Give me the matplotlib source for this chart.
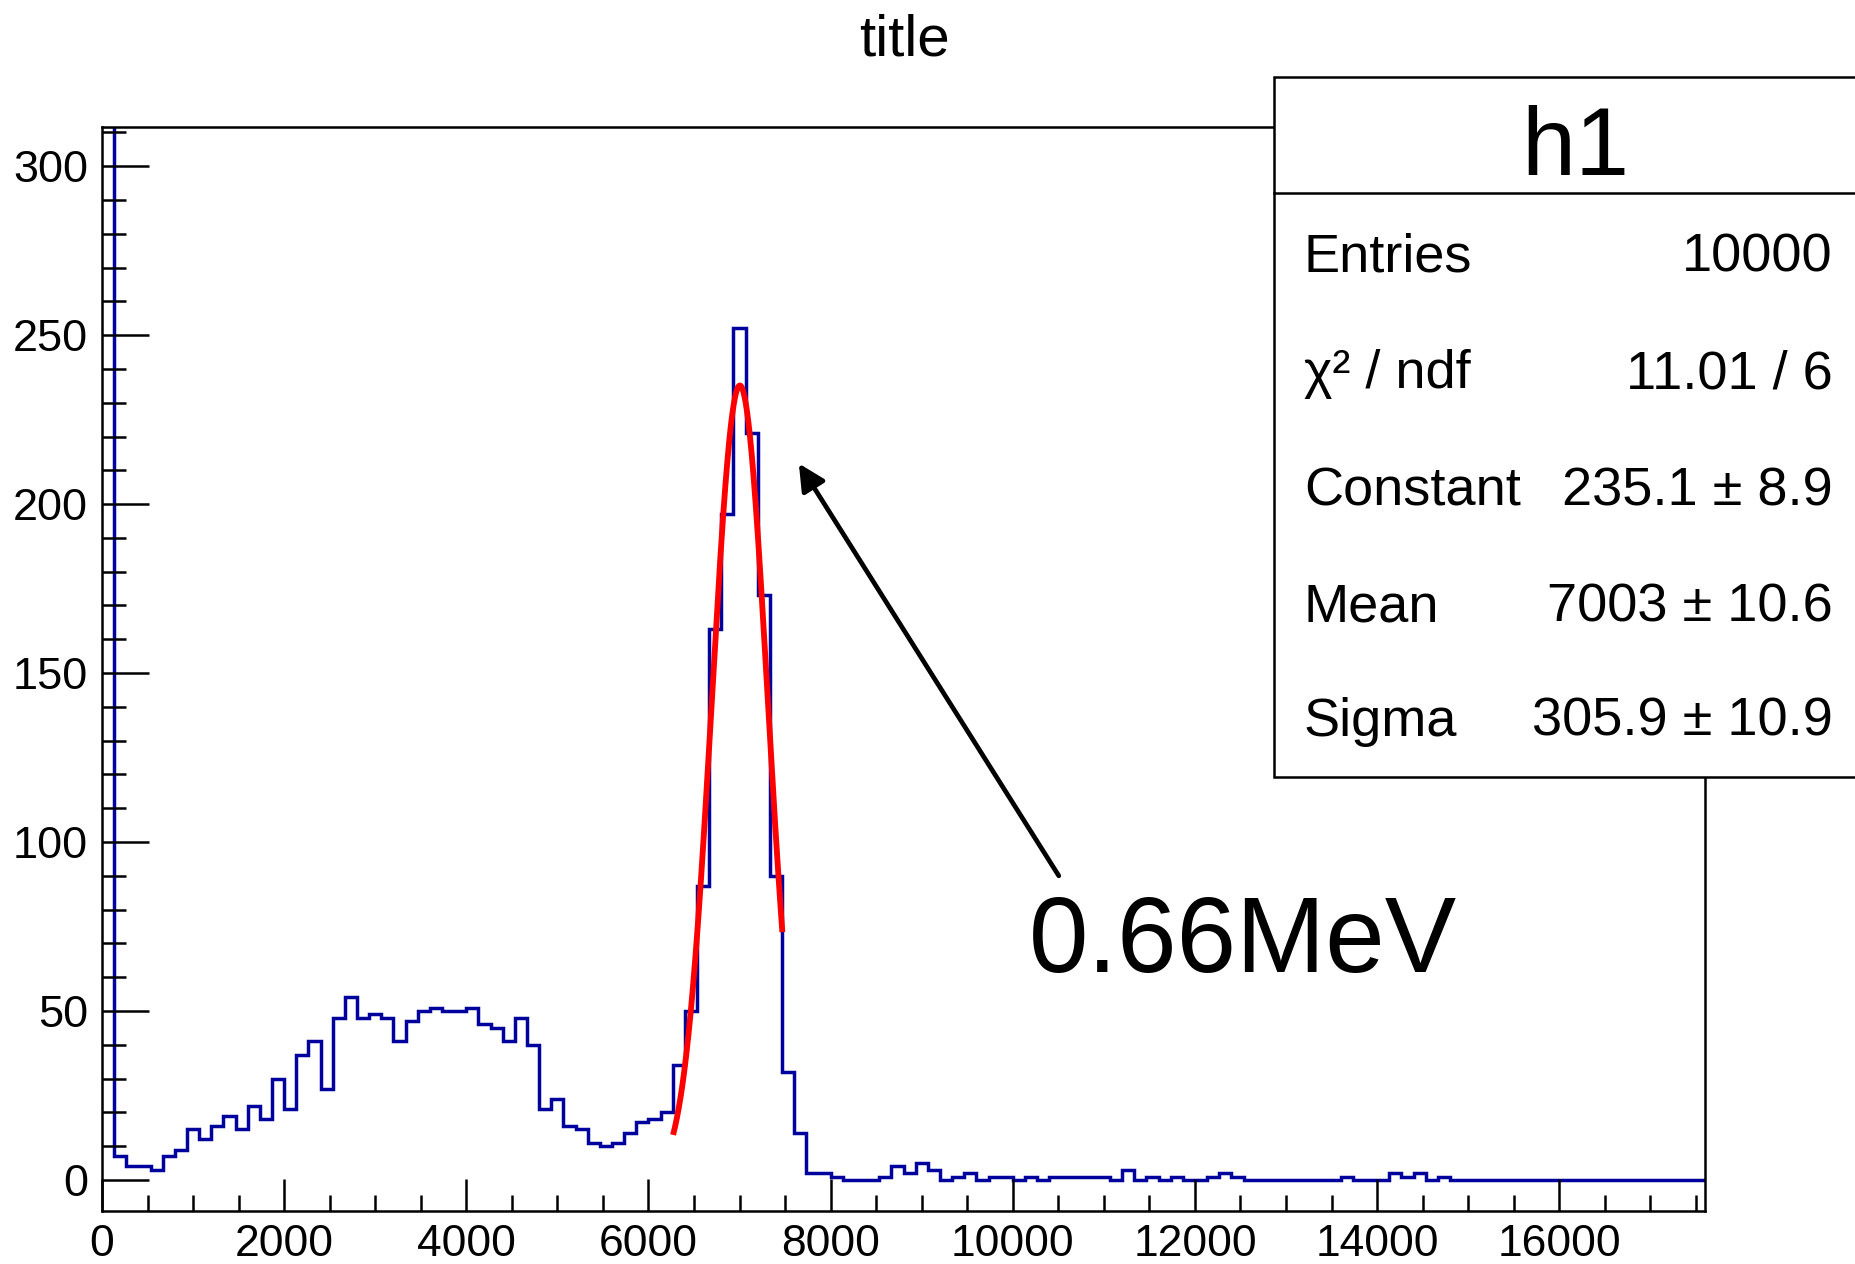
import numpy as np
import matplotlib
matplotlib.use("Agg")
import matplotlib.pyplot as plt
from matplotlib.patches import Rectangle
from matplotlib.lines import Line2D
from matplotlib.ticker import MultipleLocator

plt.rcParams['font.family'] = ['Liberation Sans', 'DejaVu Sans']

# ---------------- data ----------------
x_range = (0, 17600)
n_bins = 132
counts = [
    312, 7, 4, 4, 3, 7, 9, 15, 12, 16,
    19, 15, 22, 18, 30, 21, 37, 41, 27, 48,
    54, 48, 49, 48, 41, 47, 50, 51, 50, 50,
    51, 46, 45, 41, 48, 40, 21, 24, 16, 15,
    11, 10, 11, 14, 17, 18, 20, 34, 50, 87,
    163, 197, 252, 221, 173, 90, 32, 14, 2, 2,
    1, 0, 0, 0, 1, 4, 2, 5, 3, 0,
    1, 2, 0, 1, 1, 0, 1, 0,
    1, 1, 1, 1, 1,
    0, 3, 0, 1, 0, 1, 0, 0, 1, 2, 1,
    0, 0, 0, 0, 0, 0, 0, 0,
    1,
    0, 0, 0,
    2, 1, 2, 0, 1,
    0, 0, 0, 0, 0, 0, 0, 0, 0, 0, 0, 0, 0, 0, 0, 0, 0, 0, 0, 0, 0,
]
fit_constant = 235.1
fit_mean = 7003
fit_sigma = 305.9
fit_range = (6270, 7470)

stats_labels = ["Entries", "χ² / ndf", "Constant", "Mean", "Sigma"]
stats_values = ["10000", "11.01 / 6", "235.1 ± 8.9", "7003 ± 10.6", "305.9 ± 10.9"]
hist_name = "h1"
title = "title"
annotation = "0.66MeV"
arrow_tail = (10505, 90)
arrow_head = (7651, 212)
x_ticks = [0, 2000, 4000, 6000, 8000, 10000, 12000, 14000, 16000]
y_ticks = [0, 50, 100, 150, 200, 250, 300]

# ---------------- figure ----------------
W, H = 1855, 1264
fig = plt.figure(figsize=(W / 100, H / 100), dpi=100)
fig.patch.set_facecolor('white')

def fx(px):
    return px / W

def fy(py):
    return 1 - py / H

ax = fig.add_axes([fx(102), fy(1211), fx(1705) - fx(102), fy(127) - fy(1211)])
ax.set_xlim(*x_range)
ax.set_ylim(-9.2, 311.6)

edges = np.linspace(x_range[0], x_range[1], n_bins + 1)
ax.stairs(counts, edges, color='#00009c', linewidth=2.5, baseline=None)

xf = np.linspace(fit_range[0], fit_range[1], 300)
yf = fit_constant * np.exp(-0.5 * ((xf - fit_mean) / fit_sigma) ** 2)
ax.plot(xf, yf, color='#ff0000', linewidth=4.2, solid_capstyle='butt')

for s in ax.spines.values():
    s.set_linewidth(1.8)

ax.set_xticks(x_ticks)
ax.set_yticks(y_ticks)
ax.xaxis.set_minor_locator(MultipleLocator(500))
ax.yaxis.set_minor_locator(MultipleLocator(10))
ax.tick_params(axis='x', which='major', direction='in', length=23, width=1.8,
               labelsize=32, pad=9, top=False)
ax.tick_params(axis='x', which='minor', direction='in', length=11.5, width=1.8, top=False)
ax.tick_params(axis='y', which='major', direction='in', length=34, width=1.8,
               labelsize=32.5, pad=10, right=False)
ax.tick_params(axis='y', which='minor', direction='in', length=17, width=1.8, right=False)

# annotation
ax.annotate('', xy=arrow_head, xytext=arrow_tail,
            arrowprops=dict(arrowstyle='-|>', color='black', lw=3.4,
                            mutation_scale=40, shrinkA=0, shrinkB=0))
ax.text(10176, 61.5, annotation, fontsize=77, va='baseline', ha='left')

# title
fig.text(fx(904), fy(40), title, fontsize=42, ha='center', va='center')

# stats box
box = Rectangle((fx(1274), fy(777)), fx(1872) - fx(1274), fy(77) - fy(777),
                transform=fig.transFigure, facecolor='white', edgecolor='black',
                linewidth=1.8, zorder=10, clip_on=False)
fig.add_artist(box)
fig.add_artist(Line2D([fx(1274), fx(1872)], [fy(193), fy(193)],
                      transform=fig.transFigure, color='black', linewidth=1.8, zorder=11))
fig.text(fx(1575), fy(175), hist_name, fontsize=70, ha='center', va='baseline', zorder=12)
baselines = [272, 388, 506, 622, 736]
for lab, val, b in zip(stats_labels, stats_values, baselines):
    fig.text(fx(1304), fy(b), lab, fontsize=39, ha='left', va='baseline', zorder=12)
    fig.text(fx(1833), fy(b), val, fontsize=39, ha='right', va='baseline', zorder=12)

fig.savefig('out.png', dpi=100, facecolor='white')
